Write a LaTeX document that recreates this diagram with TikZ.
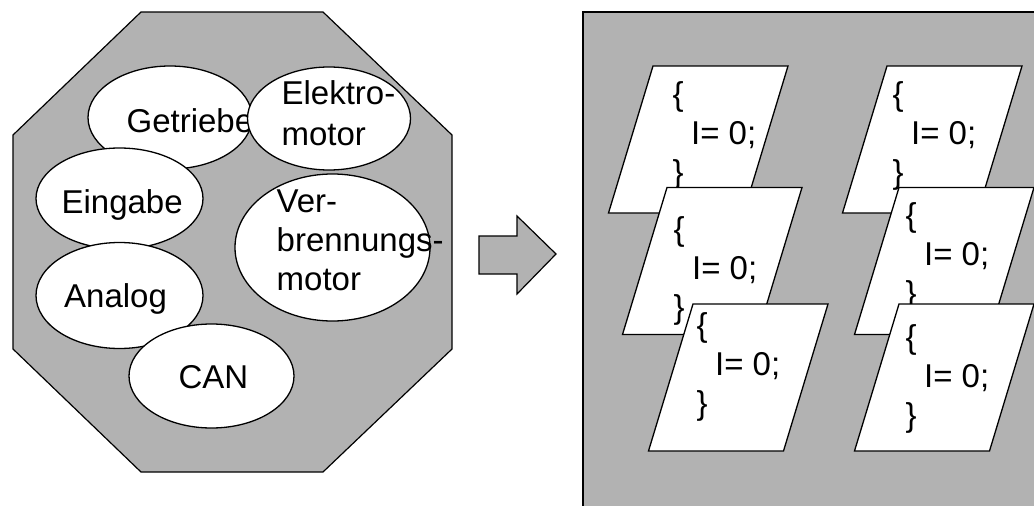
\documentclass[tikz,border=0pt]{standalone}
\usepackage{fontspec}
\setmainfont{Liberation Sans}
\usetikzlibrary{shapes.geometric}
\definecolor{panelgray}{RGB}{178,178,178}

\tikzset{
  panel/.style={fill=panelgray, draw=black, line width=1.2pt, line join=miter},
  bubble/.style={ellipse, draw=black, fill=white, line width=1.3pt, inner sep=0pt},
  % multi-line text: the base anchor sits on the last line
  txt/.style={anchor=base west, inner sep=0pt, align=left,
              font=\fontsize{33}{39}\selectfont},
  card/.style={fill=white, draw=black, line width=1.3pt, line join=miter},
  codecard/.pic={\draw[card] (0,0) -- (135,0) -- (90.5,147) -- (-44.5,147) -- cycle;}
}

\newcommand{\codetext}{\{\\\hspace*{18.5pt}I= 0;\\\}}

\begin{document}
\begin{tikzpicture}[x=1pt, y=-1pt]
\useasboundingbox (0,0) rectangle (1034,506);
\clip (0,0) rectangle (1034,506);

% left: octagonal module holding the components
\draw[panel] (13,135) -- (141,12) -- (323,12) -- (452,135) -- (452,349)
  -- (323,472) -- (141,472) -- (13,349) -- cycle;

\node[bubble, minimum width=164pt, minimum height=103pt] (getriebe) at (170,117.5) {};
\node[txt] (tgetriebe) at (126.4,132) {Getriebe};
\node[bubble, minimum width=163pt, minimum height=103pt] (elektro) at (329,118.5) {};
\node[txt] (telektro) at (281.4,145) {Elektro-\\[2pt]motor};
\node[bubble, minimum width=167pt, minimum height=101pt] (eingabe) at (119.5,198.5) {};
\node[txt] (teingabe) at (61.4,213) {Eingabe};
\node[bubble, minimum width=167pt, minimum height=106pt] (analog) at (119.5,295.5) {};
\node[txt] (tanalog) at (64,307) {Analog};
\node[bubble, minimum width=165pt, minimum height=104pt] (can) at (211.5,376) {};
\node[txt] (tcan) at (178.4,388) {CAN};
\node[bubble, minimum width=195pt, minimum height=147pt] (verbrennung) at (332.5,247.5) {};
\node[txt] (tverbrennung) at (276.5,290) {Ver-\\brennungs-\\motor};

% block arrow
\draw[panel] (479,236) -- (517,236) -- (517,216) -- (556,254) -- (517,294)
  -- (517,274) -- (479,274) -- cycle;

% right: panel with the code cards
\draw[panel] (583,12) rectangle (1045,520);

\pic at (653,66) {codecard};
\node[txt] (code1) at (672.4,183) {\codetext};
\pic at (667,187.5) {codecard};
\node[txt] (code2) at (673.4,318) {\codetext};
\pic at (693,304) {codecard};
\node[txt] (code3) at (696.4,414) {\codetext};

\pic at (887,66) {codecard};
\node[txt] (code4) at (892.4,183) {\codetext};
\pic at (899,187.5) {codecard};
\node[txt] (code5) at (905.4,304) {\codetext};
\pic at (899,304) {codecard};
\node[txt] (code6) at (905.4,426) {\codetext};
\end{tikzpicture}
\end{document}
